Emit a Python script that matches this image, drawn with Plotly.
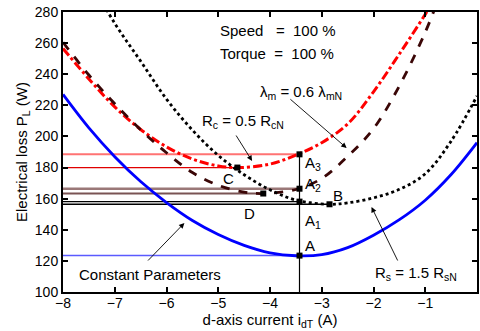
import plotly.graph_objects as go

# ---- data ----
x_grid = [-8, -7.5, -7, -6.5, -6, -5.5, -5, -4.5, -4, -3.5, -3, -2.5, -2, -1.5, -1, -0.5, 0]

loss_const = [227, 205.5, 187, 171, 157.5, 146, 137, 130, 125.2, 123.3, 124, 128.5, 136.5, 146.5, 159, 175.5, 196]

x_rc = [-8, -7.5, -7, -6.5, -6, -5.5, -5, -4.6, -4, -3.5, -3, -2.5, -2, -1.5, -1, -0.75]
loss_rc = [256.5, 237, 219, 204.5, 193.3, 185.5, 181, 180, 182.2, 188, 196, 208, 228.7, 253, 278.5, 292]

x_lm = [-8, -7.5, -7, -6.5, -6, -5.5, -5, -4.5, -4.13, -3.5, -3, -2.5, -2, -1.5, -1, -0.75]
loss_lm = [260.5, 239.5, 221, 204.3, 189.5, 176.8, 168.6, 164.2, 163.3, 165.9, 173, 187.2, 205, 232.5, 267, 288]

x_rs = [-7.5, -7, -6.5, -6, -5.5, -5, -4.5, -4, -3.5, -2.85, -2.5, -2, -1.5, -1, -0.5, 0]
loss_rs = [302, 272.7, 248.4, 224, 204.1, 187.8, 175.4, 165.7, 159.1, 156.4, 157.3, 160.5, 166, 176, 197, 226]

# operating points
pt_names = ["A", "A1", "A2", "A3", "B", "C", "D"]
pt_x = [-3.43, -3.43, -3.43, -3.43, -2.85, -4.63, -4.13]
pt_y = [123.4, 158.1, 166.4, 188.5, 156.4, 180.0, 163.3]

# horizontal reference lines: level and end x
ref_y = [188.5, 180.0, 166.4, 163.3, 158.1, 156.4, 123.4]
ref_xend = [-3.43, -4.63, -3.43, -4.13, -3.43, -2.85, -3.43]
ref_col = ["#ff7373", "#e00000", "#9a7878", "#7a5454", "#000000", "#000000", "#5a5aff"]
ref_w = [2, 1.2, 2.5, 2, 1.3, 1.3, 1.5]

fig = go.Figure()

for yv, xe, c, w in zip(ref_y, ref_xend, ref_col, ref_w):
    fig.add_trace(go.Scatter(x=[-8, xe], y=[yv, yv], mode="lines",
                             line=dict(color=c, width=w), showlegend=False, hoverinfo="skip"))

# vertical line through A .. A3
fig.add_trace(go.Scatter(x=[pt_x[0], pt_x[0]], y=[100, pt_y[3]], mode="lines",
                         line=dict(color="black", width=1.2), showlegend=False))

fig.add_trace(go.Scatter(x=x_grid, y=loss_const, mode="lines", line_shape="spline",
                         line=dict(color="#0000ff", width=2.8), showlegend=False))
fig.add_trace(go.Scatter(x=x_rc, y=loss_rc, mode="lines", line_shape="spline",
                         line=dict(color="#ff0000", width=3, dash="dashdot"), showlegend=False))
fig.add_trace(go.Scatter(x=x_lm, y=loss_lm, mode="lines", line_shape="spline",
                         line=dict(color="#3a0606", width=2.8, dash="dash"), showlegend=False))
fig.add_trace(go.Scatter(x=x_rs, y=loss_rs, mode="lines", line_shape="spline",
                         line=dict(color="black", width=2.8, dash="dot"), showlegend=False))

fig.add_trace(go.Scatter(x=pt_x, y=pt_y, mode="markers",
                         marker=dict(symbol="square", size=6, color="black"), showlegend=False))

FONT = "Liberation Sans, Arial, sans-serif"
font = dict(family=FONT, size=15, color="black")
NB = "\u00a0"

def px2x(px):
    return -8 + (px - 63) / 52.0

def px2y(py):
    return 280 - (py - 12) / (280 / 180.0)

texts = [
    ("Speed" + NB * 3 + "=" + NB * 2 + "100 %", 219, 30),
    ("Torque" + NB * 2 + "=" + NB * 2 + "100 %", 219, 53),
    ("λ<sub>m</sub>" + NB + "=" + NB + "0.6" + NB + "λ<sub>mN</sub>", 259, 92),
    ("R<sub>c</sub> = 0.5 R<sub>cN</sub>", 201, 121),
    ("C", 222, 178),
    ("D", 243, 213),
    ("A<sub>3</sub>", 304, 163),
    ("A<sub>2</sub>", 304, 184),
    ("A<sub>1</sub>", 304, 221),
    ("A", 304, 245),
    ("B", 332, 195),
    ("R<sub>s</sub> = 1.5 R<sub>sN</sub>", 374, 273),
    ("Constant Parameters", 77, 274),
]
for t, px, py in texts:
    fig.add_annotation(x=px2x(px), y=px2y(py), text=t, showarrow=False,
                       xanchor="left", yanchor="middle", font=font)

arrows = [
    ((147, 262), (185, 223)),
    ((290, 98), (348, 148)),
    ((236, 134), (253, 161)),
    ((400, 262), (373, 207)),
]
for (tx, ty), (hx, hy) in arrows:
    fig.add_annotation(x=px2x(hx), y=px2y(hy), ax=px2x(tx), ay=px2y(ty),
                       axref="x", ayref="y", xref="x", yref="y", text="",
                       showarrow=True, arrowhead=2, arrowsize=1.2, arrowwidth=0.9,
                       arrowcolor="black")

axis_common = dict(showline=True, linecolor="black", linewidth=2, mirror="ticks",
                   ticks="inside", ticklen=5, tickwidth=1.5, tickcolor="black",
                   showgrid=False, zeroline=False,
                   tickfont=dict(family=FONT, size=14, color="black"))

fig.update_xaxes(range=[-8, 0], dtick=1, **axis_common, ticklabelstandoff=-3,
                 title=dict(text="d-axis current i<sub>dT</sub> (A)", standoff=0,
                            font=dict(family=FONT, size=15, color="black")))
fig.update_yaxes(range=[100, 280], dtick=20, **axis_common,
                 title=dict(text="Electrical loss P<sub>L</sub> (W)", standoff=4,
                            font=dict(family=FONT, size=15, color="black")))

fig.update_layout(width=480, height=331, margin=dict(l=63, r=1, t=12, b=39),
                  plot_bgcolor="white", paper_bgcolor="white")

fig.write_html("out.html")
